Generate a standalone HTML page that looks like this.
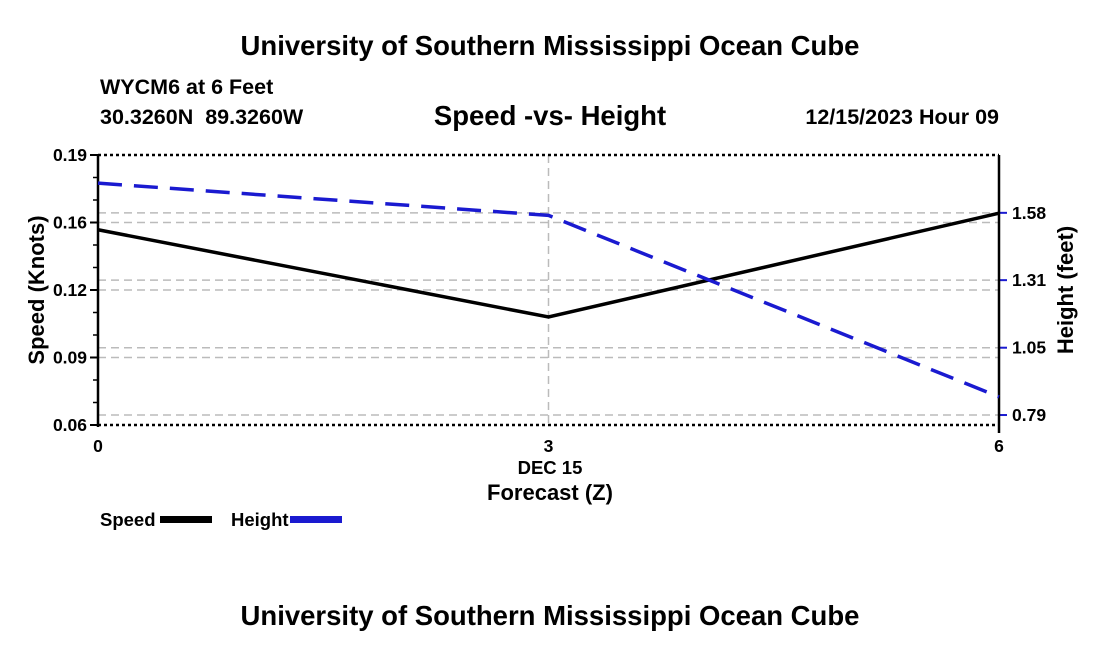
<!DOCTYPE html>
<html><head><meta charset="utf-8"><style>
body{margin:0;background:#fff;}
svg{display:block;font-family:"Liberation Sans",Arial,sans-serif;font-weight:bold;}
</style></head><body>
<svg id="chart" width="1100" height="650" viewBox="0 0 1100 650">
<rect width="1100" height="650" fill="#fff"/>
<text x="550" y="55" font-size="27.5" text-anchor="middle">University of Southern Mississippi Ocean Cube</text>
<text x="100" y="94" font-size="21.5">WYCM6 at 6 Feet</text>
<text x="100" y="124" font-size="21.5" xml:space="preserve">30.3260N  89.3260W</text>
<text x="550" y="125" font-size="27.5" text-anchor="middle">Speed -vs- Height</text>
<text x="999" y="124" font-size="21.5" text-anchor="end">12/15/2023 Hour 09</text>
<g id="grid"></g>
<g id="axes"></g>
<g id="series"></g>
<text x="550" y="474" font-size="18.5" text-anchor="middle">DEC 15</text>
<text x="550" y="500" font-size="22" text-anchor="middle">Forecast (Z)</text>
<text transform="translate(44,290) rotate(-90)" font-size="22" text-anchor="middle">Speed (Knots)</text>
<text transform="translate(1073,290) rotate(-90)" font-size="22" text-anchor="middle">Height (feet)</text>
<g>
<text x="100" y="526" font-size="18.5">Speed</text>
<rect x="160" y="516" width="52" height="7" fill="#000"/>
<text x="231" y="526" font-size="18.5">Height</text>
<rect x="290" y="516" width="52" height="7" fill="#1a1ad0"/>
</g>
<text x="550" y="625" font-size="27.5" text-anchor="middle">University of Southern Mississippi Ocean Cube</text>
</svg>
<script>
const hours = [0, 3, 6];
const speedValues = [0.154, 0.112, 0.162];
const heightValues = [1.696, 1.570, 0.861];
const leftTickLabels = ["0.06", "0.09", "0.12", "0.16", "0.19"];
const rightTickLabels = ["0.79", "1.05", "1.31", "1.58"];
const xTickLabels = ["0", "3", "6"];

const X0 = 98, X1 = 999, YT = 155, YB = 425;
const sMin = 0.06, sMax = 0.19;
const hMin = 0.751, hMax = 1.806;
const hTicks = [0.79, 1.053, 1.317, 1.58];
const xs = h => X0 + (h - 0) / 6 * (X1 - X0);
const ys = v => YB - (v - sMin) / (sMax - sMin) * (YB - YT);
const yh = v => YB - (v - hMin) / (hMax - hMin) * (YB - YT);
const NS = "http://www.w3.org/2000/svg";
function mk(parent, tag, attrs) {
  const e = document.createElementNS(NS, tag);
  for (const k in attrs) e.setAttribute(k, attrs[k]);
  parent.appendChild(e);
  return e;
}
const grid = document.getElementById('grid');
const axes = document.getElementById('axes');
const series = document.getElementById('series');

leftTickLabels.forEach((lab, i) => {
  const v = sMin + i * (sMax - sMin) / (leftTickLabels.length - 1);
  const y = ys(v);
  if (i > 0 && i < leftTickLabels.length - 1) {
    const g = mk(grid, 'line', {x1: X0, x2: X1, y1: y, y2: y, stroke: '#bbb', 'stroke-width': 1.5, 'stroke-dasharray': '8,5'});
    
    
  }
  const t = mk(axes, 'line', {x1: X0 - 8, x2: X0, y1: y, y2: y, stroke: '#000', 'stroke-width': 2});
  
  
  const tx = mk(axes, 'text', {x: X0 - 11, y: y + 6, 'font-size': 17.5, 'text-anchor': 'end'});
  tx.textContent = lab;
  
  
  if (i < leftTickLabels.length - 1) {
    for (let m = 1; m < 3; m++) {
      const ym = y - m * (YB - YT) / (leftTickLabels.length - 1) / 3;
      const mt = mk(axes, 'line', {x1: X0 - 5, x2: X0, y1: ym, y2: ym, stroke: '#000', 'stroke-width': 1.5});
      
      
    }
  }
});
rightTickLabels.forEach((lab, i) => {
  const y = yh(hTicks[i]);
  const g = mk(grid, 'line', {x1: X0, x2: X1, y1: y, y2: y, stroke: '#bbb', 'stroke-width': 1.5, 'stroke-dasharray': '8,5'});
  
  
  const t = mk(axes, 'line', {x1: X1, x2: X1 + 8, y1: y, y2: y, stroke: '#1a1ad0', 'stroke-width': 2});
  
  
  const tx = mk(axes, 'text', {x: X1 + 13, y: y + 6, 'font-size': 17.5});
  tx.textContent = lab;
  
  
});
xTickLabels.forEach((lab, i) => {
  const x = xs(hours[i]);
  if (i === 1) {
    const g = mk(grid, 'line', {x1: x, x2: x, y1: YT, y2: YB, stroke: '#bbb', 'stroke-width': 1.5, 'stroke-dasharray': '8,5'});
    
    
  }
  const tx = mk(axes, 'text', {x: x, y: 452, 'font-size': 17.5, 'text-anchor': 'middle'});
  tx.textContent = lab;
  
  
});
[[X0, YT, X0, YB + 2], [X1, YT, X1, YB + 8]].forEach(c => {
  const l = mk(axes, 'line', {x1: c[0], y1: c[1], x2: c[2], y2: c[3], stroke: '#000', 'stroke-width': 2.5});
  
  
});
[YT, YB].forEach(y => {
  const l = mk(axes, 'line', {x1: X0, y1: y, x2: X1, y2: y, stroke: '#000', 'stroke-width': 2.5, 'stroke-dasharray': '3,3'});
  
  
});
const sp = mk(series, 'polyline', {points: hours.map((h, i) => xs(h) + ',' + ys(speedValues[i])).join(' '), fill: 'none', stroke: '#000', 'stroke-width': 3.5});


const hp = mk(series, 'polyline', {points: hours.map((h, i) => xs(h) + ',' + yh(heightValues[i])).join(' '), fill: 'none', stroke: '#1a1ad0', 'stroke-width': 3.5, 'stroke-dasharray': '24,12'});


</script>
</body></html>
